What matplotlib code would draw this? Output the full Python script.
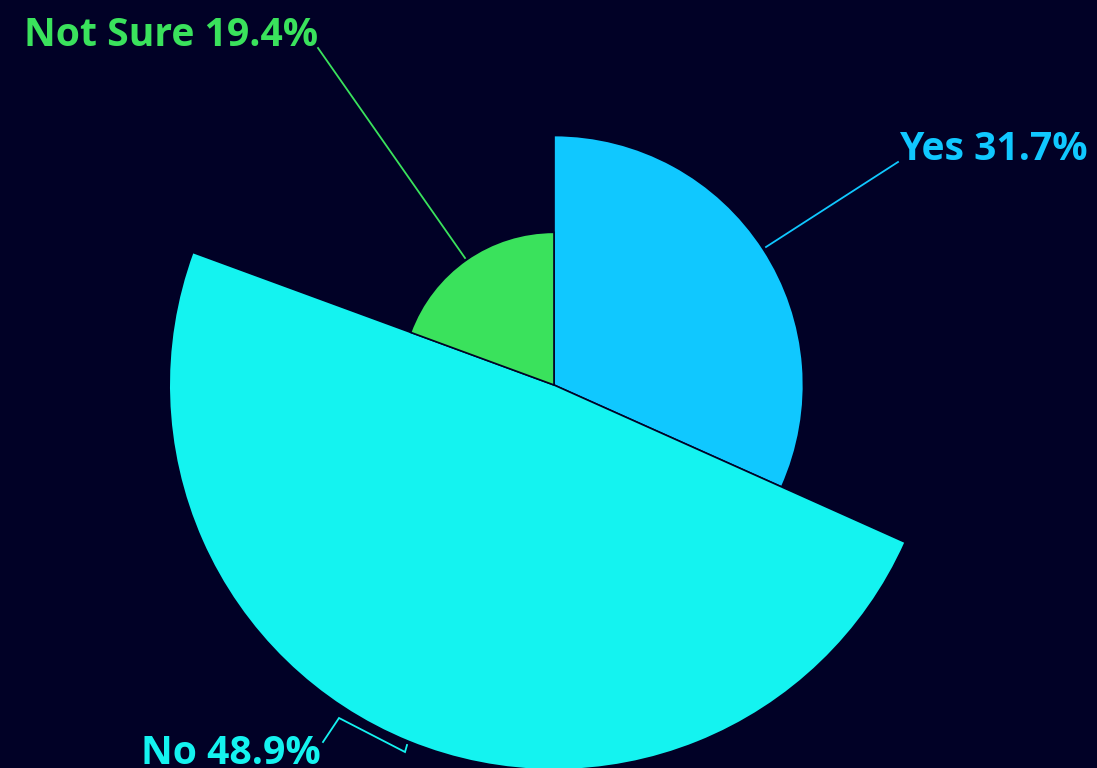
import matplotlib
matplotlib.use("Agg")
import matplotlib.pyplot as plt
import numpy as np
from matplotlib.patches import Wedge

# data
categories = ["Yes", "No", "Not Sure"]
shares = [31.7, 48.9, 19.4]
colors = ["#10C8FF", "#14F3F0", "#3AE25C"]

BG = "#010126"
W, H = 1097, 768
CENTER = (554, H - 385)
PX_PER_UNIT = 7.87  # rose chart: radius follows value

plt.rcParams["font.family"] = ["Open Sans", "DejaVu Sans"]

fig = plt.figure(figsize=(W / 100, H / 100), dpi=100, facecolor=BG)
ax = fig.add_axes([0, 0, 1, 1])
ax.set_facecolor(BG)
ax.set_xlim(0, W)
ax.set_ylim(0, H)
ax.set_aspect("equal")
ax.axis("off")

# slices clockwise from 12 o'clock
start = 90.0
total = sum(shares)
for cat, val, col in zip(categories, shares, colors):
    sweep = 360.0 * val / total
    end = start - sweep
    ax.add_patch(Wedge(CENTER, val * PX_PER_UNIT, end, start,
                       facecolor=col, edgecolor=BG, linewidth=1.2))
    start = end

# labels with leader lines (pixel positions, y measured from top)
label_pos = {
    "Yes": dict(text_xy=(899, 149), ha="left",
                line=[(766, 247), (898, 162)]),
    "No": dict(text_xy=(321, 753), ha="right",
               line=[(407, 745), (405, 752), (339, 718), (323, 742)]),
    "Not Sure": dict(text_xy=(318, 36), ha="right",
                     line=[(465, 258), (318, 48)]),
}

for cat, val, col in zip(categories, shares, colors):
    p = label_pos[cat]
    xs = [pt[0] for pt in p["line"]]
    ys = [H - pt[1] for pt in p["line"]]
    ax.plot(xs, ys, color=col, linewidth=1.3, solid_joinstyle="miter")
    ax.text(p["text_xy"][0], H - p["text_xy"][1], f"{cat} {val}%",
            color=col, fontsize=28.2, fontweight="bold",
            ha=p["ha"], va="center")

fig.savefig("out.png", dpi=100, facecolor=BG)
plt.close(fig)
